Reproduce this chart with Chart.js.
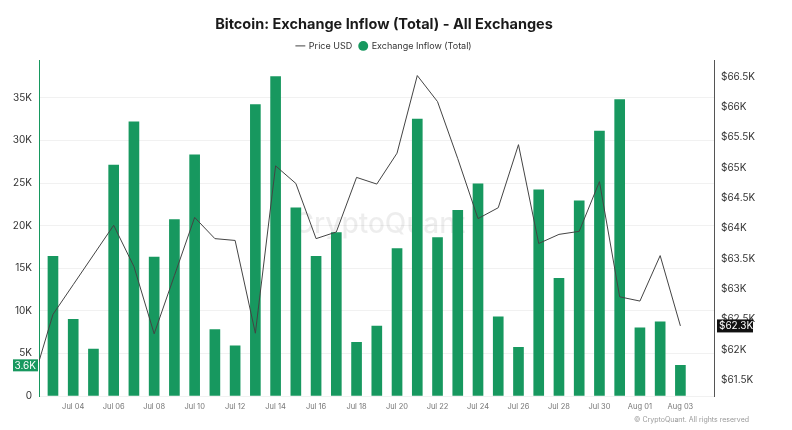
<!DOCTYPE html>
<html>
<head>
<meta charset="utf-8">
<script src="https://cdn.jsdelivr.net/npm/chart.js@4"></script>
<style>
  html, body { margin: 0; padding: 0; background: #fff; }
  #wrap { width: 792px; height: 430px; }
</style>
</head>
<body>
<div id="wrap"><canvas id="inflowChart"></canvas></div>
<script>
// Days (Jul 02 only carries the price that enters from the left edge)
const days = ["Jul 02", "Jul 03", "Jul 04", "Jul 05", "Jul 06", "Jul 07", "Jul 08", "Jul 09", "Jul 10",
  "Jul 11", "Jul 12", "Jul 13", "Jul 14", "Jul 15", "Jul 16", "Jul 17", "Jul 18", "Jul 19", "Jul 20",
  "Jul 21", "Jul 22", "Jul 23", "Jul 24", "Jul 25", "Jul 26", "Jul 27", "Jul 28", "Jul 29", "Jul 30",
  "Jul 31", "Aug 01", "Aug 02", "Aug 03"];

// Exchange inflow (BTC)
const inflow = [null, 16400, 9000, 5500, 27100, 32200, 16300, 20700, 28300, 7800, 5900, 34200,
  37500, 22100, 16400, 19200, 6300, 8200, 17300, 32500, 18600, 21800, 24900, 9300, 5700,
  24200, 13800, 22900, 31100, 34800, 8000, 8700, 3600];

// Price USD
const price = [61460, 62580, 63070, 63560, 64050, 63370, 62260, 63220, 64180, 63830, 63800, 62270,
  65030, 64740, 63830, 63940, 64840, 64730, 65240, 66520, 66090, 65150, 64160, 64340, 65380,
  63750, 63900, 63950, 64770, 62870, 62800, 63550, 62390];

const xTicks = ["Jul 04", "Jul 06", "Jul 08", "Jul 10", "Jul 12", "Jul 14", "Jul 16", "Jul 18",
  "Jul 20", "Jul 22", "Jul 24", "Jul 26", "Jul 28", "Jul 30", "Aug 01", "Aug 03"];
const inflowTicks = [0, 5000, 10000, 15000, 20000, 25000, 30000, 35000];
const priceTicks = [61500, 62000, 62500, 63000, 63500, 64000, 64500, 65000, 65500, 66000, 66500];

const GREEN = "#17985f";
const FONT = "Inter, 'Noto Sans', sans-serif";

// x position of a day: Jul 03 = 0
const dayX = d => days.indexOf(d) - 1;

const inflowPoints = inflow.map((v, i) => ({ x: i - 1, y: v })).filter(p => p.y !== null);
const pricePoints = price.map((v, i) => ({ x: i - 1, y: v }));

// Watermark, footer and last-value boxes
const extras = {
  id: "extras",
  beforeDatasetsDraw(chart) {
    const { ctx, chartArea: a } = chart;
    ctx.save();
    ctx.font = "500 28px " + FONT;
    ctx.fillStyle = "rgba(0,0,0,0.07)";
    ctx.textAlign = "center";
    ctx.textBaseline = "middle";
    ctx.fillText("CryptoQuant", (a.left + a.right) / 2 + 3, (a.top + a.bottom) / 2 - 4);
    ctx.restore();
  },
  afterDraw(chart) {
    const { ctx } = chart;
    const y = chart.scales.y, y1 = chart.scales.y1;
    ctx.save();
    ctx.textBaseline = "middle";

    const lastInflow = inflow[inflow.length - 1];
    const iy = y.getPixelForValue(lastInflow);
    ctx.fillStyle = GREEN;
    ctx.fillRect(13, iy - 6, 25, 12);
    ctx.fillStyle = "#fff";
    ctx.font = "10px " + FONT;
    ctx.textAlign = "right";
    ctx.fillText((lastInflow / 1000).toFixed(1) + "K", 36, iy + 0.5);

    const lastPrice = price[price.length - 1];
    const py = y1.getPixelForValue(lastPrice);
    ctx.fillStyle = "#111";
    ctx.fillRect(717, py - 6.5, 36, 13);
    ctx.fillStyle = "#fff";
    ctx.textAlign = "left";
    ctx.fillText("$" + (Math.floor(lastPrice / 100) / 10).toFixed(1) + "K", 719, py + 0.5);

    ctx.fillStyle = "#999";
    ctx.font = "7px " + FONT;
    ctx.textAlign = "right";
    ctx.fillText("\u00a9 CryptoQuant. All rights reserved", 749, 420);
    ctx.restore();
  }
};

new Chart(document.getElementById("inflowChart"), {
  type: "bar",
  data: {
    datasets: [
      {
        type: "line",
        label: "Price USD",
        data: pricePoints,
        yAxisID: "y1",
        borderColor: "#444",
        backgroundColor: "#444",
        borderWidth: 1,
        pointRadius: 0,
        tension: 0,
        order: 0,
        pointStyle: "line"
      },
      {
        label: "Exchange Inflow (Total)",
        data: inflowPoints,
        yAxisID: "y",
        backgroundColor: GREEN,
        borderWidth: 0,
        barThickness: 10,
        order: 1,
        pointStyle: "circle"
      }
    ]
  },
  options: {
    responsive: true,
    maintainAspectRatio: false,
    animation: false,
    layout: { padding: { left: 0, right: 24, top: 0, bottom: 13 } },
    plugins: {
      title: {
        display: true,
        text: "Bitcoin: Exchange Inflow (Total) - All Exchanges",
        color: "#1a1a1a",
        font: { family: FONT, size: 14.5, weight: "bold" },
        padding: { top: 16, bottom: 1 }
      },
      legend: {
        display: true,
        labels: {
          usePointStyle: true,
          boxHeight: 7,
          boxWidth: 8,
          color: "#333",
          padding: 7,
          font: { family: FONT, size: 9 }
        }
      },
      tooltip: { enabled: false }
    },
    scales: {
      x: {
        type: "linear",
        offset: false,
        min: -0.69,
        max: 32.66,
        afterBuildTicks: axis => { axis.ticks = xTicks.map(d => ({ value: dayX(d) })); },
        ticks: {
          autoSkip: false,
          maxRotation: 0,
          padding: 6,
          color: "#777",
          font: { family: FONT, size: 7.5 },
          callback: v => days[v + 1]
        },
        grid: { display: false, drawTicks: false },
        border: { display: false }
      },
      y: {
        position: "left",
        min: 0,
        max: 39400,
        afterBuildTicks: axis => { axis.ticks = inflowTicks.map(v => ({ value: v })); },
        afterFit: axis => { axis.width = 39; },
        ticks: {
          padding: 7,
          color: "#333",
          font: { family: FONT, size: 10 },
          callback: v => v === 0 ? "0" : v / 1000 + "K"
        },
        grid: { color: "#f1f1f1", drawTicks: false },
        border: { display: true, color: GREEN, width: 1 }
      },
      y1: {
        position: "right",
        min: 61234,
        max: 66770,
        afterBuildTicks: axis => { axis.ticks = priceTicks.map(v => ({ value: v })); },
        afterFit: axis => { axis.width = 54; },
        ticks: {
          padding: 7,
          color: "#333",
          font: { family: FONT, size: 10 },
          callback: v => "$" + v / 1000 + "K"
        },
        grid: { display: false, drawTicks: false },
        border: { display: true, color: "#555", width: 1 }
      }
    }
  },
  plugins: [extras]
});
</script>
</body>
</html>
